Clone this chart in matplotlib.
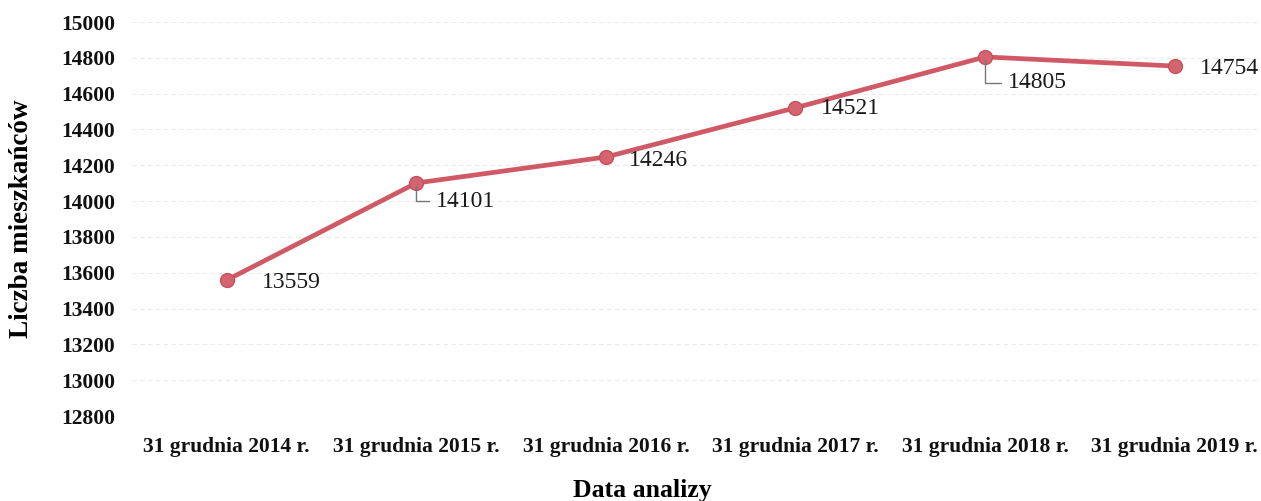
import matplotlib
matplotlib.use("Agg")
import matplotlib.pyplot as plt

# data
dates = ["31 grudnia 2014 r.", "31 grudnia 2015 r.", "31 grudnia 2016 r.",
         "31 grudnia 2017 r.", "31 grudnia 2018 r.", "31 grudnia 2019 r."]
residents = [13559, 14101, 14246, 14521, 14805, 14754]
y_ticks = list(range(12800, 15001, 200))

# label offsets in pixels (text left edge / vertical centre vs point), leader flag
label_offsets = [(35, -2), (20, -18), (23, -3), (25, -1), (23, -26), (25, -2)]
leaders = [False, True, False, False, True, False]

plt.rcParams['font.family'] = ['Liberation Serif', 'DejaVu Serif']

fig = plt.figure(figsize=(12.61, 5.01), dpi=100)
ax = fig.add_axes([132 / 1261, 1 - 416 / 501, (1258 - 132) / 1261, (416 - 22) / 501])

x = list(range(len(dates)))
ax.plot(x, residents, color='#cf5a66', lw=3.4, marker='o', ms=10,
        markerfacecolor='#d46470', markeredgecolor='#c8505c', zorder=3)

for xi, v, off, lead in zip(x, residents, label_offsets, leaders):
    kw = {}
    if lead:
        kw['arrowprops'] = dict(arrowstyle='-', color='#777777', lw=1,
                                connectionstyle='angle,angleA=0,angleB=90,rad=0',
                                shrinkA=3, shrinkB=2)
    ax.annotate(str(v), xy=(xi, v), xytext=off, textcoords='offset pixels',
                ha='left', va='center', fontsize=17, color='#1a1a1a', **kw)

ax.set_xlim(-0.5, 5.44)
ax.set_ylim(12800, 15000)
ax.set_yticks(y_ticks)
ax.set_xticks(x)
ax.set_xticklabels(dates)
ax.tick_params(axis='both', length=0, labelsize=15.5, colors='#111111')
ax.tick_params(axis='y', pad=12)
ax.tick_params(axis='x', pad=15)
for lab in ax.get_xticklabels() + ax.get_yticklabels():
    lab.set_fontweight('bold')

ax.grid(axis='y', color='#ebebeb', lw=0.8, ls=(0, (4, 3)))
ax.set_axisbelow(True)
for s in ax.spines.values():
    s.set_visible(False)

ax.set_ylabel("Liczba mieszkańców", fontsize=19.5, fontweight='bold', labelpad=20)
fig.text(642 / 1261, 1 - 490 / 501, "Data analizy", fontsize=18.5, fontweight='bold',
         ha='center', va='center')

fig.savefig("out.png", dpi=100)
